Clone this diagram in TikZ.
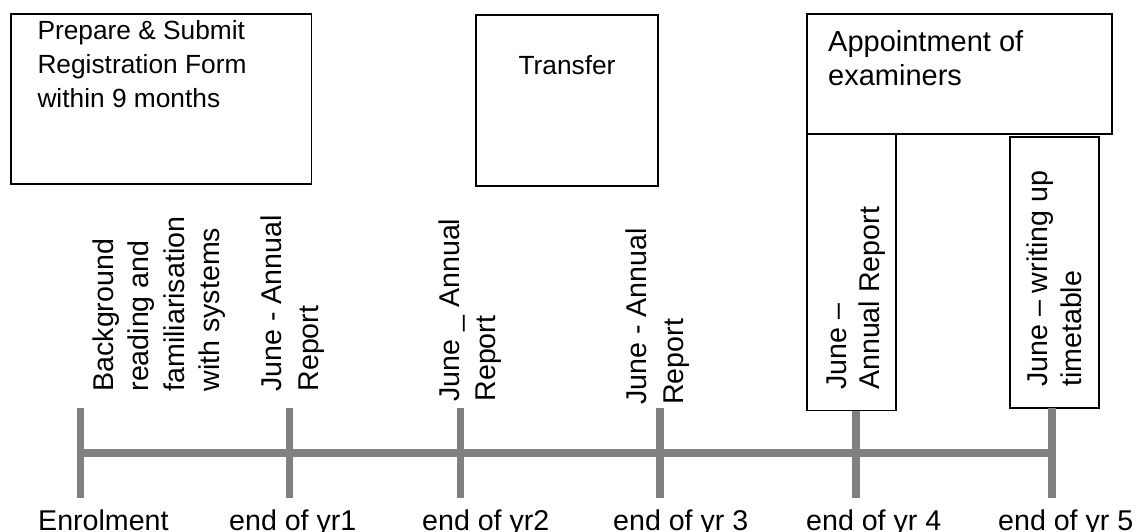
\documentclass[tikz,border=0pt]{standalone}
\usepackage{fontspec}
\setmainfont{Liberation Sans}
\definecolor{tlgray}{RGB}{128,128,128}
\newcommand{\ml}[1]{\begin{tabular}[t]{@{}l@{}}#1\end{tabular}}
\begin{document}
\begin{tikzpicture}[x=1pt,y=-1pt,
  box/.style={draw=black,line width=1.3pt,inner sep=0pt,outer sep=0pt,anchor=north west},
  axisline/.style={draw=tlgray,line width=8pt},
  tickline/.style={draw=tlgray,line width=7.5pt},
  rot/.style={rotate=90,anchor=base west,inner sep=0pt,font=\fontsize{28.6}{35.5}\selectfont},
  lab/.style={anchor=base west,inner sep=0pt,font=\fontsize{28.6}{34}\selectfont},
  boxtext/.style={anchor=base west,inner sep=0pt,font=\fontsize{26.3}{34}\selectfont}]
\useasboundingbox (0,0) rectangle (1137,532);

% boxes
\node[box,minimum width=300.5pt,minimum height=170pt] (reg) at (11,14) {};
\node[box,minimum width=182pt,minimum height=171pt] (transfer) at (476,15) {};
\node[box,minimum width=305pt,minimum height=120pt] (appoint) at (807,14) {};
\node[box,minimum width=89pt,minimum height=276.7pt] (yr4box) at (807,134) {};
\node[box,minimum width=89pt,minimum height=271pt] (yr5box) at (1010,137) {};

% box texts
\node[boxtext] (regtext) at (37.3,39.5) {\ml{Prepare \& Submit\\Registration Form\\within 9 months}};
\node[boxtext,anchor=base] (transfertext) at (567,75) {Transfer};
\node[boxtext,font=\fontsize{29}{34}\selectfont] (appointtext) at (828,52) {\ml{Appointment of\\examiners}};

% timeline coordinates
\coordinate (t0) at (80.5,453);
\coordinate (t1) at (289.5,453);
\coordinate (t2) at (460.5,453);
\coordinate (t3) at (660,453);
\coordinate (t4) at (856,453);
\coordinate (t5) at (1052,453);
\foreach \i/\x in {0/80.5,1/289.5,2/460.5,3/660,5/1052}{
  \coordinate (top\i) at (\x,408);
}
\coordinate (top4) at (t4 |- yr4box.south);
\foreach \i/\x in {0/80.5,1/289.5,2/460.5,3/660,4/856,5/1052}{
  \coordinate (bot\i) at (\x,498);
}

\draw[axisline] (t0) -- (t5);
\foreach \i in {0,...,5}{
  \draw[tickline] (top\i) -- (bot\i);
}

% rotated labels
\node[rot] (bg) at (113.3,391.7) {\ml{Background\\reading and\\familiarisation\\with systems}};
\node[rot,font=\fontsize{28.6}{36.3}\selectfont] (r1) at (281.7,391.7) {\ml{June - Annual\\Report}};
\node[rot,font=\fontsize{28.6}{36}\selectfont] (r2) at (459,401.7) {\ml{June \_ Annual\\Report}};
\node[rot,font=\fontsize{28.6}{36.3}\selectfont] (r3) at (646.7,405) {\ml{June - Annual\\Report}};
\node[rot,font=\fontsize{28.6}{33}\selectfont] (r4) at (846,390) {\ml{June –\\Annual Report}};
\node[rot,font=\fontsize{28.6}{34.7}\selectfont] (r5) at (1047,387) {\ml{June – writing up\\timetable}};

% bottom labels
\node[lab] (l0) at (38,530) {Enrolment};
\node[lab] (l1) at (229,530) {end of yr1};
\node[lab] (l2) at (422,530) {end of yr2};
\node[lab] (l3) at (613,530) {end of yr 3};
\node[lab] (l4) at (806,530) {end of yr 4};
\node[lab] (l5) at (998,530) {end of yr 5};
\end{tikzpicture}
\end{document}
